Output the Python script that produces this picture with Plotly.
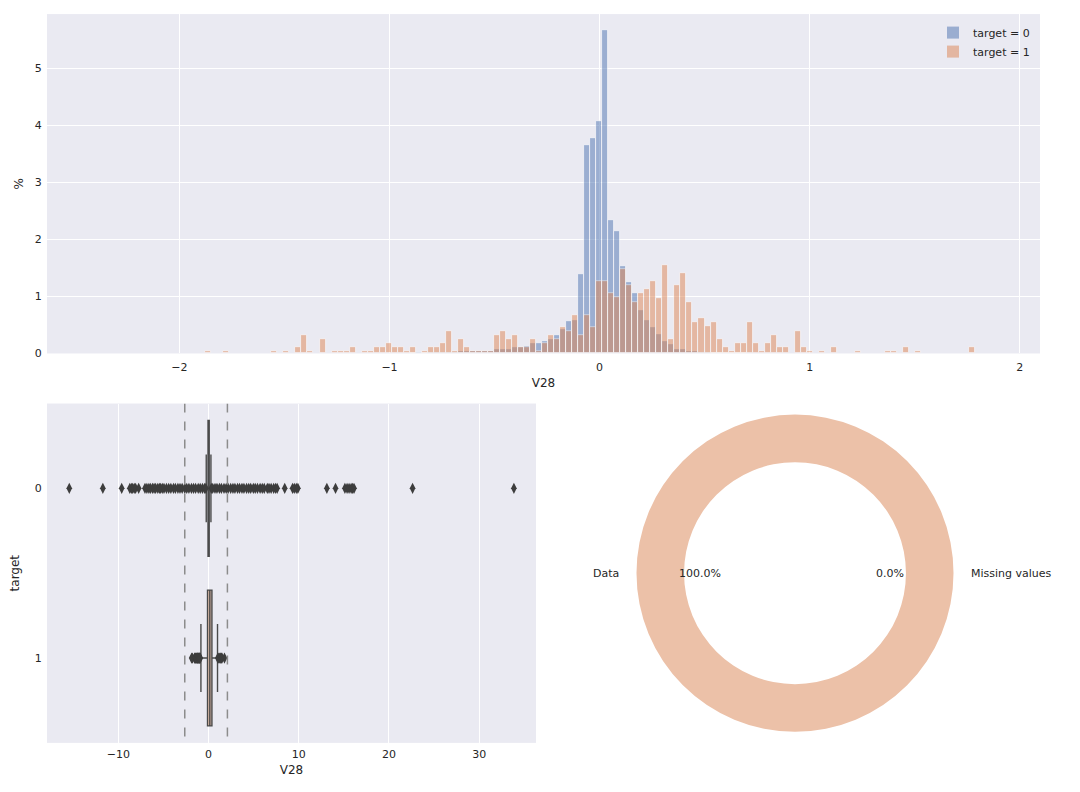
import math
import plotly.graph_objects as go

# ---------------- data ----------------
# Histogram (percent per bin), 150 bins of equal width
bin_start = -2.421
bin_width = 0.02863
hist_target0 = [
    0, 0, 0, 0, 0, 0, 0, 0, 0, 0,
    0, 0, 0, 0, 0, 0, 0, 0, 0, 0,
    0, 0, 0, 0, 0, 0, 0, 0, 0, 0,
    0, 0, 0, 0, 0, 0, 0, 0, 0, 0,
    0, 0, 0, 0, 0, 0, 0, 0, 0, 0,
    0, 0, 0, .01, .02, .01, .02, .02, .03, .03,
    .03, .04, .04, .05, .05, .05, .05, .07, .07, .085,
    .12, .12, .13, .18, .19, .22, .26, .33, .42, .56,
    .58, 1.40, 3.65, 3.77, 4.07, 5.67, 2.33, 2.15, 1.53, 1.26,
    1.06, .76, .58, .46, .34, .21, .16, .085, .075, .05,
    .035, .025, .02, .01, .01, .005, .005, .005, .005, 0,
    0, 0, 0, 0, 0, 0, 0, 0, 0, 0,
    0, 0, 0, 0, 0, 0, 0, 0, 0, 0,
    0, 0, 0, 0, 0, 0, 0, 0, 0, 0,
    0, 0, 0, 0, 0, 0, 0, 0, 0, 0,
]
hist_target1 = [
    0, 0, 0, 0, 0, 0, 0, 0, 0, 0,
    0, 0, 0, 0, 0, 0, 0, 0, 0, .05,
    0, 0, .05, 0, 0, 0, 0, 0, 0, 0,
    .05, 0, .05, 0, .12, .33, .05, 0, .26, 0,
    .05, .05, .05, .12, 0, .05, .05, .12, .12, .19,
    .12, .12, .05, .12, 0, .05, .12, .12, .19, .40,
    .05, .26, .12, .05, .05, .05, .05, .33, .40, .26,
    .33, .12, .12, .26, .05, .19, .33, .26, .47, .40,
    .68, .33, .68, .47, 1.27, 1.27, 1.06, .98, 1.48, 1.20,
    .90, 1.06, 1.13, 1.27, .97, 1.55, .26, 1.20, 1.41, .90,
    .55, .62, .48, .55, .26, .12, .05, .19, .19, .55,
    .19, .05, .19, .33, .12, .12, 0, .40, .12, .05,
    0, .05, 0, .12, 0, 0, 0, .05, 0, 0,
    0, 0, .05, .05, 0, .12, 0, .05, 0, 0,
    0, 0, 0, 0, 0, 0, .12, 0, 0, 0,
]
hist_labels = ["target = 0", "target = 1"]
hist_xticks = [-2, -1, 0, 1, 2]
hist_yticks = [0, 1, 2, 3, 4, 5]
hist_xrange = [-2.630, 2.096]
hist_yrange = [0, 5.95]

# Box plot summary stats (V28 by target)
box_targets = [0, 1]
box_q1 = [-0.053, -0.108]
box_median = [0.011, 0.147]
box_q3 = [0.078, 0.381]
box_lowerfence = [-0.25, -0.84]
box_upperfence = [0.27, 1.00]
fliers_target0 = [
    -15.43, -11.71, -9.62, -8.72, -8.55, -8.41, -8.23, -8.08, -7.74,
    -7.04, -6.83, -6.61, -6.44, -6.21, -6.03, -5.86, -5.62, -5.44, -5.31,
    -5.12, -4.93, -4.66, -4.41, -4.17, -3.88, -3.67, -3.39, -3.16, -2.92,
    -2.63, -2.41, -2.17, -1.89, -1.66, -1.43, -1.14, -0.92, -0.67, -0.43, -0.29,
    0.31, 0.47, 0.72, 0.94, 1.21, 1.43, 1.72, 1.96, 2.18, 2.46, 2.71, 2.93,
    3.22, 3.44, 3.71, 3.93, 4.22, 4.46, 4.68, 4.97, 5.18, 5.43, 5.72, 5.96,
    6.18, 6.52, 6.71, 6.94, 7.22, 7.43, 7.61, 8.45, 9.32, 9.51, 9.73, 9.91,
    13.12, 14.08, 15.12, 15.36, 15.58, 15.81, 15.97, 16.13, 22.62, 33.85,
]
fliers_target1 = [
    -1.87, -1.78, -1.55, -1.50, -1.44, -1.40, -1.37, -1.32, -1.27, -1.24,
    -1.21, -1.18, -1.12, -1.09, -1.06, -1.03, -1.00, -0.97, -0.94, -0.91,
    1.03, 1.09, 1.21, 1.35, 1.38, 1.44, 1.50, 1.77,
]
box_xticks = [-10, 0, 10, 20, 30]
box_xrange = [-17.9, 36.3]
dashed_lines = [-2.630, 2.096]

# Missing values donut
pie_labels = ["Data", "Missing values"]
pie_values = [100.0, 0.0]

# ---------------- styling ----------------
FONT = "DejaVu Sans"
TXT = "#262626"
BG = "#EAEAF2"
BLUE = "rgb(76,114,176)"
ORANGE = "rgb(221,132,82)"
BOX_LINE = "#4a4a4a"
OFF = 8                 # page body margin
SY = 800 / 792          # vertical page-to-picture compensation
W = 1080 - 2 * OFF
H = 800 - 2 * OFF


def xp(px):
    return (px - OFF) / W


def yp(py):
    return (H - (py * SY - OFF)) / H


fig = go.Figure()

centers = [bin_start + bin_width * (i + 0.5) for i in range(len(hist_target0))]
for vals, col, name in [(hist_target0, BLUE, hist_labels[0]), (hist_target1, ORANGE, hist_labels[1])]:
    fig.add_trace(go.Bar(
        x=centers, y=vals, width=bin_width, name=name,
        marker=dict(color=col,
                    line=dict(color="white", width=[0.8 if v > 0 else 0 for v in vals])),
        opacity=0.5, xaxis="x", yaxis="y", showlegend=True,
    ))

# boxes
box_fill = ["rgba(88,117,164,0.85)", "rgba(204,137,99,0.5)"]
for i, t in enumerate(box_targets):
    fig.add_trace(go.Box(
        y=[t], q1=[box_q1[i]], median=[box_median[i]], q3=[box_q3[i]],
        lowerfence=[box_lowerfence[i]], upperfence=[box_upperfence[i]],
        orientation="h", width=0.8, whiskerwidth=0.5,
        fillcolor=box_fill[i], line=dict(color=BOX_LINE, width=1.4),
        boxpoints=False, xaxis="x2", yaxis="y2", showlegend=False,
    ))
for t, fl in zip(box_targets, [fliers_target0, fliers_target1]):
    fig.add_trace(go.Scatter(
        x=fl, y=[t] * len(fl), mode="markers",
        marker=dict(symbol="diamond-tall", size=8, color="#3d3d3d",
                    line=dict(width=0)),
        xaxis="x2", yaxis="y2", showlegend=False,
    ))
for xv in dashed_lines:
    fig.add_trace(go.Scatter(
        x=[xv, xv], y=[-0.5, 1.5], mode="lines",
        line=dict(color="#8c8c8c", width=1.5, dash="dash"),
        xaxis="x2", yaxis="y2", showlegend=False, hoverinfo="skip",
    ))

# donut
cx_px, cy_px, r_px = 795.0, 572.5, 158.5
dom_x = [xp(cx_px - r_px), xp(cx_px + r_px)]
dom_y = [yp(cy_px + r_px), yp(cy_px - r_px)]
fig.add_trace(go.Pie(
    values=pie_values, labels=pie_labels, hole=0.7, sort=False,
    direction="counterclockwise", rotation=90,
    marker=dict(colors=["#ECC1A8", "#9AAED4"], line=dict(width=0)),
    textinfo="none", showlegend=False, domain=dict(x=dom_x, y=dom_y),
))
total = sum(pie_values)
ann = []
start = 0.0
for lab, v in zip(pie_labels, pie_values):
    frac = v / total
    mid = 2 * math.pi * (start + frac / 2)
    start += frac
    c = math.cos(mid)
    s = math.sin(mid)
    lx = cx_px + 1.1 * r_px * c
    ly = cy_px - 1.1 * r_px * s
    px = cx_px + 0.6 * r_px * c
    py = cy_px - 0.6 * r_px * s
    ann.append(dict(x=xp(lx), y=yp(ly), xref="paper", yref="paper",
                    text=lab, showarrow=False,
                    xanchor="right" if c < 0 else "left", yanchor="middle",
                    font=dict(family=FONT, size=11, color=TXT)))
    ann.append(dict(x=xp(px), y=yp(py), xref="paper", yref="paper",
                    text=f"{frac * 100:.1f}%", showarrow=False,
                    xanchor="center", yanchor="middle",
                    font=dict(family=FONT, size=11, color=TXT)))

axis_common = dict(showgrid=True, gridcolor="white", gridwidth=1, zeroline=False,
                   showline=False, ticks="outside",
                   tickcolor="rgba(0,0,0,0)",
                   tickfont=dict(family=FONT, size=11, color=TXT))

fig.update_layout(
    width=W, height=H, margin=dict(l=0, r=0, t=0, b=0),
    paper_bgcolor="white", plot_bgcolor=BG,
    font=dict(family=FONT, size=11, color=TXT),
    barmode="overlay", bargap=0, boxmode="overlay",
    xaxis=dict(domain=[xp(47), xp(1040)], anchor="y", range=hist_xrange,
               tickvals=hist_xticks, ticklen=3,
               title=dict(text="V28", font=dict(size=12), standoff=5), **axis_common),
    yaxis=dict(domain=[yp(353), yp(14)], anchor="x", range=hist_yrange,
               tickvals=hist_yticks, ticklen=2,
               title=dict(text="%", font=dict(size=12), standoff=8), **axis_common),
    xaxis2=dict(domain=[xp(47), xp(536)], anchor="y2", range=box_xrange,
                tickvals=box_xticks, ticklen=1,
                title=dict(text="V28", font=dict(size=12), standoff=5), **axis_common),
    yaxis2=dict(domain=[yp(742), yp(403)], anchor="x2", range=[1.5, -0.5],
                tickvals=box_targets, ticktext=[str(t) for t in box_targets],
                showgrid=False, zeroline=False, showline=False, ticks="outside",
                ticklen=2, tickcolor="rgba(0,0,0,0)",
                tickfont=dict(family=FONT, size=11, color=TXT),
                title=dict(text="target", font=dict(size=12), standoff=12)),
    legend=dict(x=xp(1035), xanchor="right", y=yp(18), yanchor="top",
                bgcolor="rgba(0,0,0,0)", font=dict(family=FONT, size=11, color=TXT),
                tracegroupgap=0, itemwidth=30),
    annotations=ann,
)

fig.write_html("out.html")
